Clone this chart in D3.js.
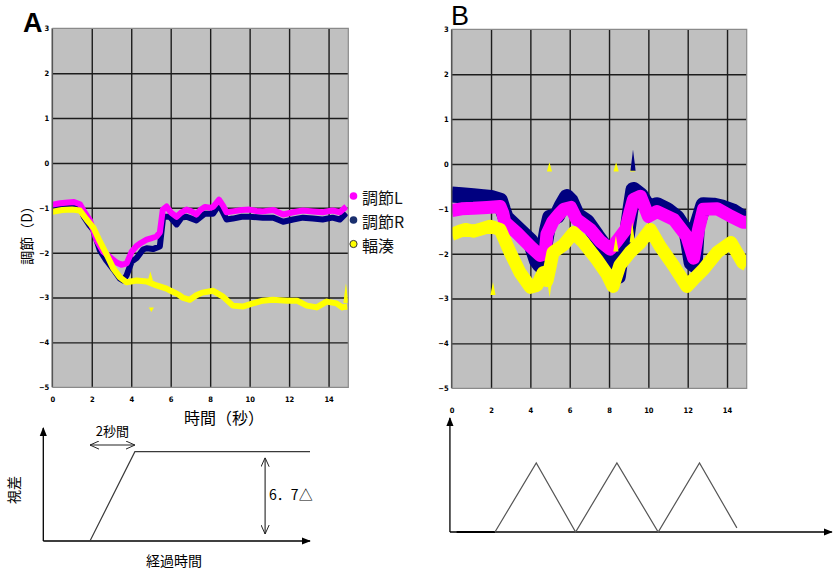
<!DOCTYPE html>
<html><head><meta charset="utf-8">
<script src="https://cdn.jsdelivr.net/npm/d3@7"></script>
<style>
body{margin:0;background:#fff}
svg text{font-family:"Liberation Sans",Arial,sans-serif}
.jp{font-family:"Noto Sans CJK JP","Noto Sans CJK SC",sans-serif !important}
.tick text{font-family:"Liberation Sans Narrow","DejaVu Sans Condensed","Liberation Sans",sans-serif !important;font-weight:bold}
</style>
</head><body>
<svg id="c" width="835" height="573"></svg>
<script>
// ---------- data ----------
const xTicks = [0, 2, 4, 6, 8, 10, 12, 14];
const yTicks = [3, 2, 1, 0, -1, -2, -3, -4, -5];
const seriesNames = ["調節L", "調節R", "輻湊"];

// Panel A  [time (s), value (D)]
const aL = [[0,-0.93],[0.39,-0.9],[0.8,-0.88],[1.1,-0.87],[1.4,-0.92],[1.57,-1.05],[1.91,-1.28],[2.25,-1.73],[2.58,-1.98],[2.92,-2.1],[3.26,-2.22],[3.5,-2.27],[3.77,-2.24],[4.02,-1.98],[4.27,-1.85],[4.5,-1.78],[4.78,-1.71],[5.0,-1.68],[5.28,-1.64],[5.45,-1.55],[5.6,-1.04],[5.79,-0.97],[6.0,-1.1],[6.3,-1.2],[6.55,-1.1],[6.8,-1.04],[7.05,-1.08],[7.3,-1.15],[7.5,-1.05],[7.73,-0.98],[8.0,-1.0],[8.15,-0.98],[8.45,-0.82],[8.65,-0.95],[8.83,-1.1],[9.15,-1.08],[9.6,-1.05],[10.0,-1.04],[10.35,-1.07],[10.67,-1.08],[11.2,-1.05],[11.7,-1.15],[12.2,-1.1],[12.7,-1.06],[13.2,-1.08],[13.7,-1.1],[14.2,-1.06],[14.57,-1.1],[14.9,-0.97]];
const aR = [[0,-0.97],[0.5,-0.95],[1.0,-0.93],[1.4,-0.98],[1.6,-1.2],[1.9,-1.4],[2.08,-1.5],[2.41,-1.95],[2.75,-2.18],[3.09,-2.37],[3.43,-2.58],[3.6,-2.62],[3.77,-2.5],[4.02,-2.2],[4.27,-2.12],[4.6,-1.93],[4.78,-1.9],[5.1,-1.92],[5.45,-1.86],[5.62,-1.2],[5.95,-1.2],[6.3,-1.37],[6.55,-1.22],[6.8,-1.2],[7.3,-1.28],[7.73,-1.13],[8.15,-1.13],[8.45,-0.93],[8.83,-1.26],[9.15,-1.24],[9.6,-1.2],[10,-1.2],[10.67,-1.22],[11.2,-1.22],[11.7,-1.31],[12.2,-1.26],[12.7,-1.22],[13.2,-1.24],[13.7,-1.26],[14.2,-1.22],[14.57,-1.26],[14.9,-1.12]];
const aC = [[0,-1.09],[0.5,-1.05],[1.0,-1.04],[1.4,-1.06],[1.74,-1.26],[2.08,-1.44],[2.41,-1.75],[2.75,-2.04],[3.09,-2.35],[3.43,-2.55],[3.77,-2.66],[4.27,-2.62],[4.78,-2.64],[5.28,-2.73],[5.79,-2.8],[6.0,-2.85],[6.38,-2.93],[6.6,-3.0],[6.97,-3.05],[7.3,-2.95],[7.6,-2.89],[8.15,-2.85],[8.65,-2.98],[9.15,-3.18],[9.65,-3.2],[10.16,-3.13],[10.67,-3.07],[11.17,-3.05],[11.9,-3.07],[12.4,-3.07],[12.9,-3.18],[13.4,-3.22],[13.9,-3.09],[14.4,-3.13],[14.7,-3.22],[14.95,-3.2]];
// spikes [time, base value, tip value]
const aCSpikes = [[4.97,-2.62,-2.42],[5.02,-3.22,-3.32],[14.88,-3.12,-2.68]];

// Panel B
const bL = [[0,-1.04],[0.5,-1.0],[1.1,-0.99],[1.8,-0.97],[2.46,-0.95],[2.6,-1.1],[2.7,-1.3],[3.3,-1.53],[4.0,-1.84],[4.5,-2.04],[4.75,-2.0],[4.84,-1.57],[5.15,-1.28],[5.5,-1.1],[5.7,-1.01],[6.05,-0.97],[6.36,-1.24],[7.05,-1.46],[7.55,-1.72],[8.06,-1.9],[8.4,-1.72],[8.85,-1.46],[9.05,-1.1],[9.24,-0.79],[9.6,-0.72],[10.0,-1.17],[10.44,-1.06],[11.3,-1.24],[11.96,-1.62],[12.3,-2.1],[12.55,-1.46],[12.8,-1.01],[13.5,-1.0],[14.2,-1.17],[14.8,-1.3],[15.0,-1.3]];
const bR = [[0,-0.68],[0.5,-0.7],[1.1,-0.72],[1.6,-0.74],[2.0,-0.76],[2.46,-0.82],[2.6,-1.02],[2.75,-1.2],[3.3,-1.43],[4.0,-1.72],[4.33,-2.15],[4.5,-2.25],[4.65,-2.0],[4.85,-1.48],[5.0,-1.2],[5.35,-1.16],[5.6,-0.93],[5.85,-0.74],[6.05,-0.83],[6.36,-1.14],[6.87,-1.29],[7.38,-1.61],[7.9,-1.92],[8.2,-2.15],[8.45,-2.5],[8.6,-2.0],[8.75,-1.62],[8.91,-1.58],[9.1,-0.98],[9.24,-0.58],[9.6,-0.7],[10.0,-0.98],[10.44,-0.92],[10.95,-1.03],[11.45,-1.2],[11.96,-1.54],[12.2,-2.2],[12.35,-2.25],[12.47,-1.38],[12.8,-0.92],[13.3,-0.93],[13.8,-0.98],[14.3,-1.06],[14.8,-1.2],[15.0,-1.23]];
const bC = [[0,-1.57],[0.4,-1.5],[0.7,-1.46],[1.1,-1.5],[1.5,-1.45],[1.95,-1.39],[2.46,-1.46],[2.97,-1.97],[3.47,-2.42],[4.0,-2.75],[4.33,-2.71],[4.65,-2.42],[4.85,-2.6],[5.0,-2.3],[5.15,-1.97],[5.7,-1.8],[6.2,-1.53],[6.7,-1.75],[7.38,-2.13],[7.9,-2.46],[8.2,-2.73],[8.55,-2.26],[9.07,-1.97],[9.6,-1.75],[10.1,-1.46],[10.6,-1.84],[11.3,-2.28],[11.96,-2.73],[12.3,-2.57],[12.8,-2.35],[13.5,-1.97],[14.2,-1.75],[14.8,-2.2],[15.0,-2.25]];
const bCSpikes = [[4.97,-0.17,0.04],[8.36,-0.17,0.04],[9.2,-0.17,0.08],[2.1,-2.92,-2.63],[4.98,-2.6,-2.97],[8.35,-1.95,-1.6],[9.18,-1.75,-1.3]];
const bRSpikes = [[9.22,-0.15,0.32]];

// Stimulus diagrams
const stepProfile = [[0,0],[2,0],[4,6.7],[11.8,6.7]];   // 視差 (Δ) vs 時間 (s)
const stepSpan = [2, 4];            // 2秒間
const stepAmp = 6.7;                // 6.7Δ
const waveRest = [[0.25,0],[2.2,0]];
const waveProfile = [[2.2,0],[4.3,1],[6.3,0],[8.4,1],[10.5,0],[12.6,1],[14.5,0.06]];

// ---------- styles ----------
const colL = "#ff00ff", colR = "#000080", colC = "#ffff00";

// ---------- drawing ----------
const svg = d3.select("#c");
const defs = svg.append("defs");
defs.append("marker").attr("id","tri").attr("viewBox","0 0 10 10").attr("refX",9).attr("refY",5)
  .attr("markerWidth",9).attr("markerHeight",9).attr("markerUnits","userSpaceOnUse").attr("orient","auto")
  .append("path").attr("d","M0,1 L10,5 L0,9 Z").attr("fill","#000");
defs.append("marker").attr("id","chev").attr("viewBox","0 0 10 10").attr("refX",10).attr("refY",5)
  .attr("markerWidth",9).attr("markerHeight",9).attr("markerUnits","userSpaceOnUse").attr("orient","auto-start-reverse")
  .append("path").attr("d","M0,0.5 L10,5 L0,9.5").attr("fill","none").attr("stroke","#222").attr("stroke-width",1.1);

const xA = d3.scaleLinear([0,15],[52.3,348.3]), yA = d3.scaleLinear([-5,3],[387.3,28.3]);
const xB = d3.scaleLinear([0,15],[451.7,746.7]), yB = d3.scaleLinear([-5,3],[388.3,29.3]);

function panel(id, x, y, series, spikeSets, xLabY) {
  const g = svg.append("g");
  const [x0,x1] = x.range(), [yb,yt] = y.range();
  g.append("rect").attr("x",x0).attr("y",yt).attr("width",x1-x0).attr("height",yb-yt).attr("fill","#c0c0c0");
  g.append("g").attr("transform",`translate(0,${yb})`)
    .call(d3.axisBottom(x).tickValues(xTicks.filter(t=>t>0)).tickSize(-(yb-yt)).tickFormat(""))
    .call(s=>{s.select(".domain").remove();s.selectAll("line").attr("stroke","#1c1c1c").attr("stroke-width",1.4);});
  g.append("g").attr("transform",`translate(${x0},0)`)
    .call(d3.axisLeft(y).tickValues(yTicks.slice(1,-1)).tickSize(-(x1-x0)).tickFormat(""))
    .call(s=>{s.select(".domain").remove();s.selectAll("line").attr("stroke","#1c1c1c").attr("stroke-width",1.4);});
  defs.append("clipPath").attr("id","clip"+id).append("rect").attr("x",x0).attr("y",yt).attr("width",x1-x0).attr("height",yb-yt);
  const dg = g.append("g").attr("clip-path",`url(#clip${id})`);
  const line = d3.line().x(d=>x(d[0])).y(d=>y(d[1]));
  series.forEach(s=>{
    dg.append("path").datum(s.data).attr("d",line).attr("fill","none").attr("stroke",s.color)
      .attr("stroke-width",s.w).attr("stroke-linejoin","round").attr("stroke-linecap","butt");
  });
  spikeSets.forEach(ss=>{
    dg.selectAll(null).data(ss.data).join("path")
      .attr("d",d=>{const cx=x(d[0]),b=y(d[1]),t=y(d[2]);return `M${cx-2.6},${b}L${cx+2.6},${b}L${cx},${t}Z`;})
      .attr("fill",ss.color);
  });
  // border
  g.append("path").attr("d",`M${x0},${yb}V${yt}`).attr("stroke","#555").attr("stroke-width",1.6);
  g.append("path").attr("d",`M${x0},${yt}H${x1}V${yb}H${x0}`).attr("fill","none").attr("stroke","#8a8a8a").attr("stroke-width",1.2);
  // tick labels
  g.append("g").attr("transform",`translate(${x0-3},0)`)
    .call(d3.axisLeft(y).tickValues(yTicks).tickSize(0).tickPadding(0))
    .call(s=>{s.select(".domain").remove();s.selectAll("text").attr("font-size",7.5).attr("fill","#000");});
  g.append("g").attr("transform",`translate(0,${xLabY})`)
    .call(d3.axisBottom(x).tickValues(xTicks).tickSize(0).tickPadding(0))
    .call(s=>{s.select(".domain").remove();s.selectAll("text").attr("font-size",7.5).attr("fill","#000").attr("dy","0");});
}

panel("A", xA, yA, [{data:aR,color:colR,w:6},{data:aL,color:colL,w:6},{data:aC,color:colC,w:6}],
  [{data:aCSpikes,color:colC}], 402);
panel("B", xB, yB, [{data:bR,color:colR,w:16},{data:bL,color:colL,w:13},{data:bC,color:colC,w:13}],
  [{data:bCSpikes,color:colC},{data:bRSpikes,color:colR}], 413);

// panel letters
svg.append("text").attr("x",23).attr("y",32).attr("font-size",27).attr("font-weight","bold").text("A");
svg.append("text").attr("x",451).attr("y",25).attr("font-size",27).text("B");

// axis titles A
svg.append("text").attr("class","jp").attr("x",224).attr("y",424).attr("text-anchor","middle").attr("font-size",16).text("時間（秒）");
svg.append("text").attr("class","jp").attr("transform","translate(32,232) rotate(-90)").attr("text-anchor","middle").attr("font-size",14).text("調節（D）");

// legend
const leg = svg.append("g");
const legCols = [colL, colR, colC];
const legY = d3.scalePoint().domain(seriesNames).range([198, 246]);
seriesNames.forEach((n,i)=>{
  leg.append("circle").attr("cx",353.5).attr("cy",legY(n)-2).attr("r",i===2?3.6:3.8)
    .attr("fill",i===1?"#1a2f6e":legCols[i]).attr("stroke",i===2?"#333":"none").attr("stroke-width",1);
  leg.append("text").attr("class","jp").attr("x",362).attr("y",legY(n)+6).attr("font-size",16).attr("fill","#111").text(n);
});

// ---------- step stimulus diagram (left) ----------
const xD = d3.scaleLinear([-0.08,11.8],[43.3,310]);
const yD = d3.scaleLinear([0,8.48],[541,428]);
const dL = svg.append("g");
dL.append("line").attr("x1",xD(-0.08)).attr("x2",xD(11.8)).attr("y1",yD(0)).attr("y2",yD(0)).attr("stroke","#000").attr("stroke-width",1.3).attr("marker-end","url(#tri)");
dL.append("line").attr("x1",xD(-0.08)).attr("x2",xD(-0.08)).attr("y1",yD(0)).attr("y2",yD(8.48)).attr("stroke","#000").attr("stroke-width",1.3).attr("marker-end","url(#tri)");
dL.append("path").datum(stepProfile).attr("d",d3.line().x(d=>xD(d[0])).y(d=>yD(d[1]))).attr("fill","none").attr("stroke","#3a3a3a").attr("stroke-width",1.2);
dL.append("line").attr("x1",xD(stepSpan[0])).attr("x2",xD(stepSpan[1])).attr("y1",yD(7.2)).attr("y2",yD(7.2))
  .attr("stroke","#222").attr("stroke-width",1.1).attr("marker-start","url(#chev)").attr("marker-end","url(#chev)");
dL.append("text").attr("class","jp").attr("x",xD((stepSpan[0]+stepSpan[1])/2)).attr("y",yD(7.2)-9).attr("text-anchor","middle").attr("font-size",13).text("2秒間");
dL.append("line").attr("x1",xD(9.8)).attr("x2",xD(9.8)).attr("y1",yD(stepAmp)+6).attr("y2",yD(0)-7)
  .attr("stroke","#222").attr("stroke-width",1.1).attr("marker-start","url(#chev)").attr("marker-end","url(#chev)");
dL.append("text").attr("class","jp").attr("x",xD(9.8)+4).attr("y",yD(stepAmp/2)+4).attr("font-size",14).text("6．7△");
dL.append("text").attr("class","jp").attr("transform","translate(19,490) rotate(-90)").attr("text-anchor","middle").attr("font-size",14).text("視差");
dL.append("text").attr("class","jp").attr("x",174).attr("y",566).attr("text-anchor","middle").attr("font-size",14).text("経過時間");

// ---------- triangle stimulus diagram (right) ----------
const yW = d3.scaleLinear([0,1.65],[532,418]);
const dR = svg.append("g");
dR.append("line").attr("x1",xB(-0.09)).attr("x2",xB(19.33)).attr("y1",yW(0)).attr("y2",yW(0)).attr("stroke","#000").attr("stroke-width",1.3).attr("marker-end","url(#tri)");
dR.append("line").attr("x1",xB(-0.09)).attr("x2",xB(-0.09)).attr("y1",yW(0)).attr("y2",yW(1.65)).attr("stroke","#000").attr("stroke-width",1.3).attr("marker-end","url(#tri)");
const wl = d3.line().x(d=>xB(d[0])).y(d=>yW(d[1]));
dR.append("path").datum(waveRest).attr("d",wl).attr("stroke","#000").attr("stroke-width",2.2).attr("fill","none");
dR.append("path").datum(waveProfile).attr("d",wl).attr("stroke","#555").attr("stroke-width",1.2).attr("fill","none");
</script>
</body></html>
